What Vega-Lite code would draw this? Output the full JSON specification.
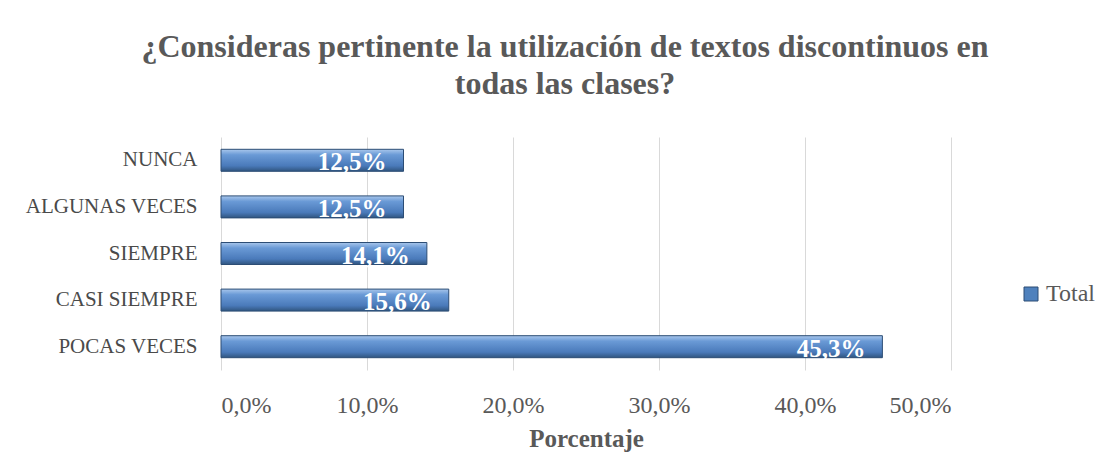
{
  "$schema": "https://vega.github.io/schema/vega-lite/v6.json",
  "autosize": {"type": "none"},
  "width": 730,
  "height": 233,
  "padding": {"left": 221, "top": 137, "right": 161, "bottom": 106},
  "background": "white",
  "title": {
    "text": ["¿Consideras pertinente la utilización de textos discontinuos en", "todas las clases?"],
    "font": "Liberation Serif",
    "fontSize": 32,
    "fontWeight": "bold",
    "color": "#595959",
    "anchor": "middle",
    "frame": "group",
    "dx": -21,
    "offset": 36,
    "lineHeight": 37
  },
  "data": {
    "values": [
      {"categoria": "NUNCA", "valor": 0.125, "serie": "Total"},
      {"categoria": "ALGUNAS VECES", "valor": 0.125, "serie": "Total"},
      {"categoria": "SIEMPRE", "valor": 0.141, "serie": "Total"},
      {"categoria": "CASI SIEMPRE", "valor": 0.156, "serie": "Total"},
      {"categoria": "POCAS VECES", "valor": 0.453, "serie": "Total"}
    ]
  },
  "encoding": {
    "y": {
      "field": "categoria",
      "type": "nominal",
      "sort": ["NUNCA", "ALGUNAS VECES", "SIEMPRE", "CASI SIEMPRE", "POCAS VECES"],
      "title": null,
      "axis": {
        "ticks": false,
        "domain": false,
        "labelFont": "Liberation Serif",
        "labelFontSize": 21,
        "labelColor": "#4a4a4a",
        "labelPadding": 24
      }
    },
    "x": {
      "field": "valor",
      "type": "quantitative",
      "scale": {"domain": [0, 0.5], "nice": false},
      "title": "Porcentaje",
      "axis": {
        "format": ".1%",
        "values": [0, 0.1, 0.2, 0.3, 0.4, 0.5],
        "grid": true,
        "gridColor": "#d9d9d9",
        "domain": false,
        "ticks": false,
        "labelFont": "Liberation Serif",
        "labelFontSize": 24,
        "labelColor": "#595959",
        "labelPadding": 23,
        "titleFont": "Liberation Serif",
        "titleFontSize": 25,
        "titleFontWeight": "bold",
        "titleColor": "#595959",
        "titlePadding": 9
      }
    }
  },
  "layer": [
    {
      "mark": {
        "type": "bar",
        "size": 22,
        "stroke": "#2c4d75",
        "strokeWidth": 1,
        "fill": {
          "gradient": "linear",
          "x1": 0, "y1": 0, "x2": 0, "y2": 1,
          "stops": [
            {"offset": 0, "color": "#a9c7ec"},
            {"offset": 0.25, "color": "#6a9ad6"},
            {"offset": 0.75, "color": "#4a7aba"},
            {"offset": 1, "color": "#30557f"}
          ]
        }
      }
    },
    {
      "mark": {"type": "point", "shape": "square", "filled": true, "opacity": 0},
      "encoding": {
        "color": {
          "field": "serie",
          "type": "nominal",
          "scale": {"range": ["#4f81bd"]},
          "legend": {
            "title": null,
            "orient": "none",
            "legendX": 798,
            "legendY": 145,
            "symbolType": "square",
            "symbolSize": 196,
            "symbolOpacity": 1,
            "symbolStrokeColor": "#2c4d75",
            "symbolStrokeWidth": 1,
            "labelFont": "Liberation Serif",
            "labelFontSize": 24,
            "labelColor": "#595959",
            "labelOffset": 3
          }
        }
      }
    },
    {
      "mark": {
        "type": "text",
        "align": "right",
        "baseline": "middle",
        "dx": -17,
        "dy": 2,
        "font": "Liberation Serif",
        "fontSize": 25,
        "fontWeight": "bold",
        "fill": "white"
      },
      "encoding": {
        "text": {"field": "valor", "type": "quantitative", "format": ".1%"}
      }
    }
  ],
  "config": {
    "locale": {
      "number": {"decimal": ",", "thousands": ".", "grouping": [3], "currency": ["", " €"]}
    },
    "view": {"stroke": null}
  }
}
